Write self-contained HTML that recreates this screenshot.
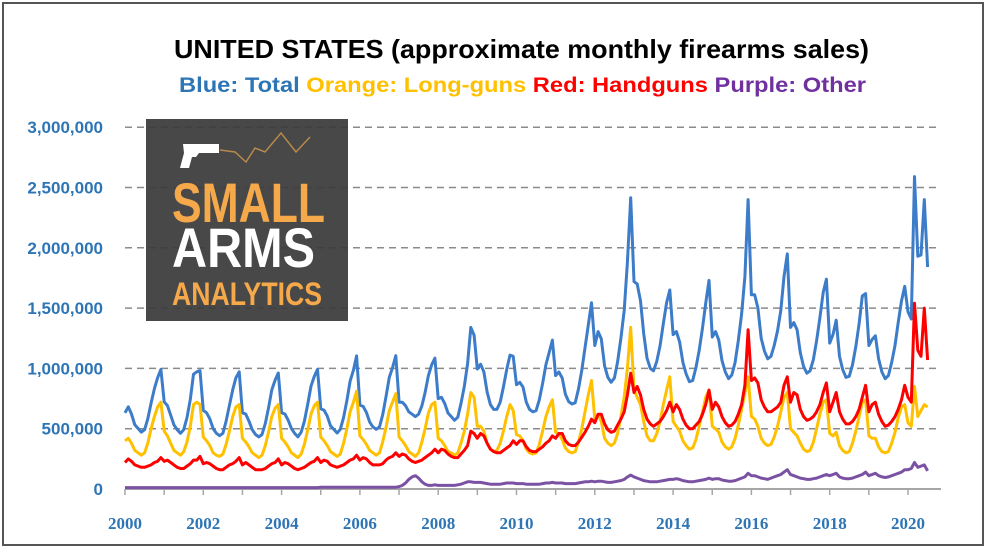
<!DOCTYPE html>
<html><head><meta charset="utf-8"><style>
html,body{margin:0;padding:0;background:#fff}
svg{display:block;font-family:"Liberation Sans",sans-serif}
</style></head><body>
<svg id="chart" width="987" height="551" viewBox="0 0 987 551" xmlns="http://www.w3.org/2000/svg">
<rect x="3" y="3" width="980" height="542" fill="#fff" stroke="#555" stroke-width="2"/>
<text x="174" y="58" font-size="26" font-weight="bold" fill="#000" textLength="695" lengthAdjust="spacingAndGlyphs">UNITED STATES (approximate monthly firearms sales)</text>
<text x="179" y="92" font-size="21" font-weight="bold" textLength="687" lengthAdjust="spacingAndGlyphs"><tspan fill="#2e75b6">Blue: Total </tspan><tspan fill="#ffc000">Orange: Long-guns </tspan><tspan fill="#ff0000">Red: Handguns </tspan><tspan fill="#7030a0">Purple: Other</tspan></text>
<g id="grid"></g>
<g id="yaxis"></g>
<g id="xaxis"></g>
<g id="series"></g>
<g>
<rect x="146" y="119" width="202" height="202" fill="#3a3a3a" fill-opacity="0.93"/>
<path d="M183 144 h36 v9 h-20 l-3 4 h-4 l-3 11 h-9 l4 -15 z" fill="#fff"/>
<polyline points="220,150 235,152 246,162 255,148 265,152 281,133 296,152 310,137" fill="none" stroke="#b88a4a" stroke-width="1.5"/>
<text x="172" y="222" font-size="56" font-weight="bold" fill="#f5a94a" textLength="153" lengthAdjust="spacingAndGlyphs">SMALL</text>
<text x="172" y="267" font-size="56" font-weight="bold" fill="#fff" textLength="143" lengthAdjust="spacingAndGlyphs">ARMS</text>
<text x="172" y="305" font-size="32" font-weight="bold" fill="#f5a94a" textLength="150" lengthAdjust="spacingAndGlyphs">ANALYTICS</text>
</g>
</svg>
<script>
// values in thousands, monthly from Jan 2000 to Jul 2020
const startYear = 2000;
const yTicks = [0,500000,1000000,1500000,2000000,2500000,3000000];
const yTickLabels = ["0","500,000","1,000,000","1,500,000","2,000,000","2,500,000","3,000,000"];
const xTickYears = [2000,2002,2004,2006,2008,2010,2012,2014,2016,2018,2020];
const totalSales = [
632,682,622,532,502,472,492,582,712,832,922,992,
722,692,612,532,492,462,492,592,742,952,972,982,
652,632,582,502,462,442,462,562,692,822,922,972,
632,622,562,492,452,432,452,542,672,822,902,962,
632,622,572,502,462,432,472,562,702,852,932,992,
664,654,604,524,494,464,494,594,734,894,984,1104,
695,685,635,555,515,495,515,615,765,925,1005,1105,
720,720,690,640,620,600,620,690,800,940,1030,1085,
750,760,710,630,600,570,595,710,850,1040,1340,1275,
995,1035,970,805,700,660,660,720,845,990,1110,1100,
865,885,845,720,660,640,650,740,875,1030,1130,1235,
940,970,920,785,725,705,715,830,985,1170,1360,1545,
1190,1305,1245,1020,925,885,920,1055,1250,1480,1880,2415,
1720,1700,1560,1290,1085,1000,980,1060,1185,1370,1545,1650,
1280,1305,1220,1050,955,890,900,1005,1150,1335,1540,1730,
1260,1305,1235,1065,970,915,945,1050,1230,1450,1760,2400,
1610,1610,1500,1250,1145,1080,1100,1190,1310,1480,1760,1950,
1340,1380,1320,1130,1015,960,980,1075,1230,1420,1630,1740,
1210,1280,1400,1100,990,925,935,1030,1180,1370,1600,1620,
1190,1240,1270,1080,970,915,940,1050,1190,1380,1560,1680,
1470,1410,2590,1930,1940,2400,1840];
const longGunSales = [
400,420,380,320,300,280,300,380,500,600,680,720,
480,440,380,320,300,280,310,390,520,700,720,700,
430,400,360,300,280,270,290,370,480,600,680,700,
420,390,350,300,280,260,280,360,470,600,670,700,
420,390,350,300,280,260,290,370,490,620,690,720,
430,400,360,310,290,270,290,380,500,640,720,810,
440,410,370,320,300,280,300,390,510,650,720,790,
430,400,360,310,290,270,300,390,500,630,700,720,
420,400,360,310,300,280,300,380,480,620,800,760,
520,520,480,380,330,310,320,380,480,600,700,650,
450,440,400,330,300,290,300,370,480,600,680,740,
470,460,410,340,310,300,310,390,500,640,780,900,
580,620,560,420,380,360,380,460,600,760,1000,1340,
820,760,700,560,440,400,400,460,560,700,820,930,
560,520,480,400,360,330,340,410,520,640,760,820,
520,500,470,390,350,330,350,420,530,660,800,930,
600,580,520,420,380,360,370,430,520,640,760,800,
500,470,440,380,330,310,320,390,500,620,720,740,
460,440,470,360,320,300,310,380,480,600,720,740,
440,420,420,350,310,300,310,380,470,590,680,700,
550,520,850,600,650,700,680];
const handgunSales = [
220,250,230,200,190,180,180,190,200,220,230,260,
230,240,220,200,180,170,170,190,210,240,240,270,
210,220,210,190,170,160,160,180,200,210,230,260,
200,220,200,180,160,160,160,170,190,210,220,250,
200,220,210,190,170,160,170,180,200,220,230,260,
220,240,230,200,190,180,190,200,220,240,250,280,
240,260,250,220,200,200,200,210,240,260,270,300,
270,290,280,250,230,220,230,240,260,280,300,330,
300,330,320,290,270,260,260,290,320,360,480,460,
420,460,440,380,330,310,300,300,320,340,360,400,
370,400,400,350,320,310,310,330,350,380,400,440,
420,460,460,400,370,360,360,390,430,470,520,580,
550,620,620,540,490,470,480,530,580,640,780,960,
800,850,780,660,580,540,520,540,560,600,650,720,
640,700,660,580,530,500,500,530,560,620,700,820,
660,720,680,600,550,520,530,560,620,700,860,1320,
900,920,880,740,680,640,640,660,680,720,860,930,
720,800,780,660,600,570,580,600,640,700,800,880,
640,720,800,640,580,540,540,560,600,660,760,860,
640,700,720,620,560,520,530,560,600,660,740,860,
760,720,1540,1150,1100,1500,1070];
const otherSales = [
12,12,12,12,12,12,12,12,12,12,12,12,
12,12,12,12,12,12,12,12,12,12,12,12,
12,12,12,12,12,12,12,12,12,12,12,12,
12,12,12,12,12,12,12,12,12,12,12,12,
12,12,12,12,12,12,12,12,12,12,12,12,
14,14,14,14,14,14,14,14,14,14,14,14,
15,15,15,15,15,15,15,15,15,15,15,15,
20,30,50,80,100,110,90,60,40,30,30,35,
30,30,30,30,30,30,35,40,50,60,60,55,
55,55,50,45,40,40,40,40,45,50,50,50,
45,45,45,40,40,40,40,40,45,50,50,55,
50,50,50,45,45,45,45,50,55,60,60,65,
60,65,65,60,55,55,60,65,70,80,100,115,
100,90,80,70,65,60,60,60,65,70,75,80,
80,85,80,70,65,60,60,65,70,75,80,90,
80,85,85,75,70,65,65,70,80,90,100,130,
110,110,100,90,85,80,90,100,110,120,140,160,
120,110,100,90,85,80,80,85,90,100,110,120,
110,120,130,100,90,85,85,90,100,110,120,140,
110,120,130,110,100,95,100,110,120,130,140,160,
160,170,220,180,190,200,150];

const NS = "http://www.w3.org/2000/svg";
const X0 = 125, PX_YEAR = 39.15, Y0 = 489, PX_PER_UNIT = 60.3/500000;
function xScale(monthIndex){ return X0 + monthIndex/12*PX_YEAR; }
function xYear(year){ return X0 + (year-startYear)*PX_YEAR; }
function yScale(v){ return Y0 - v*PX_PER_UNIT; }
function mk(tag, parent){ const e=document.createElementNS(NS,tag); parent.appendChild(e); return e; }

const grid=document.getElementById('grid'), yax=document.getElementById('yaxis'), xax=document.getElementById('xaxis'), ser=document.getElementById('series');
yTicks.forEach((t,i)=>{
  const y=yScale(t);
  if(t>0){
    const l=mk('line',grid);
    
    
    l.setAttribute('x1',X0); l.setAttribute('x2',941); l.setAttribute('y1',y); l.setAttribute('y2',y);
    l.setAttribute('stroke','#8a8a8a'); l.setAttribute('stroke-width','1.5'); l.setAttribute('stroke-dasharray','7,5');
  }
  const tx=mk('text',yax);
  
  
  tx.setAttribute('x',103); tx.setAttribute('y',y+6); tx.setAttribute('text-anchor','end');
  tx.setAttribute('font-size','17'); tx.setAttribute('font-weight','bold'); tx.setAttribute('fill','#2e75b6');
  tx.textContent=yTickLabels[i];
});
const ax=mk('line',xax);


ax.setAttribute('x1',X0); ax.setAttribute('x2',941); ax.setAttribute('y1',Y0); ax.setAttribute('y2',Y0);
ax.setAttribute('stroke','#a6a6a6'); ax.setAttribute('stroke-width','2');
for(let yr=2000; yr<=2020; yr++){
  const t=mk('line',xax);
  
  
  const x=xYear(yr);
  t.setAttribute('x1',x); t.setAttribute('x2',x); t.setAttribute('y1',Y0); t.setAttribute('y2',Y0+6);
  t.setAttribute('stroke','#a6a6a6'); t.setAttribute('stroke-width','1.5');
}
xTickYears.forEach(yr=>{
  const tx=mk('text',xax);
  
  
  tx.setAttribute('x',xYear(yr)); tx.setAttribute('y',529); tx.setAttribute('text-anchor','middle');
  tx.setAttribute('font-size','17'); tx.setAttribute('font-weight','bold'); tx.setAttribute('fill','#2e75b6');
  tx.setAttribute('font-family','"Liberation Serif",serif');
  tx.textContent=String(yr);
});
function drawSeries(arr, color, name){
  const p=mk('polyline',ser);
  
  
  p.setAttribute('points', arr.map((v,i)=>xScale(i).toFixed(1)+','+yScale(v*1000).toFixed(1)).join(' '));
  p.setAttribute('fill','none'); p.setAttribute('stroke',color); p.setAttribute('stroke-width','3'); p.setAttribute('stroke-linejoin','round');
}
drawSeries(totalSales,'#3d7cc9','total-sales-line');
drawSeries(longGunSales,'#ffc000','long-gun-sales-line');
drawSeries(handgunSales,'#ff0000','handgun-sales-line');
drawSeries(otherSales,'#7b52a3','other-sales-line');
</script>
</body></html>
